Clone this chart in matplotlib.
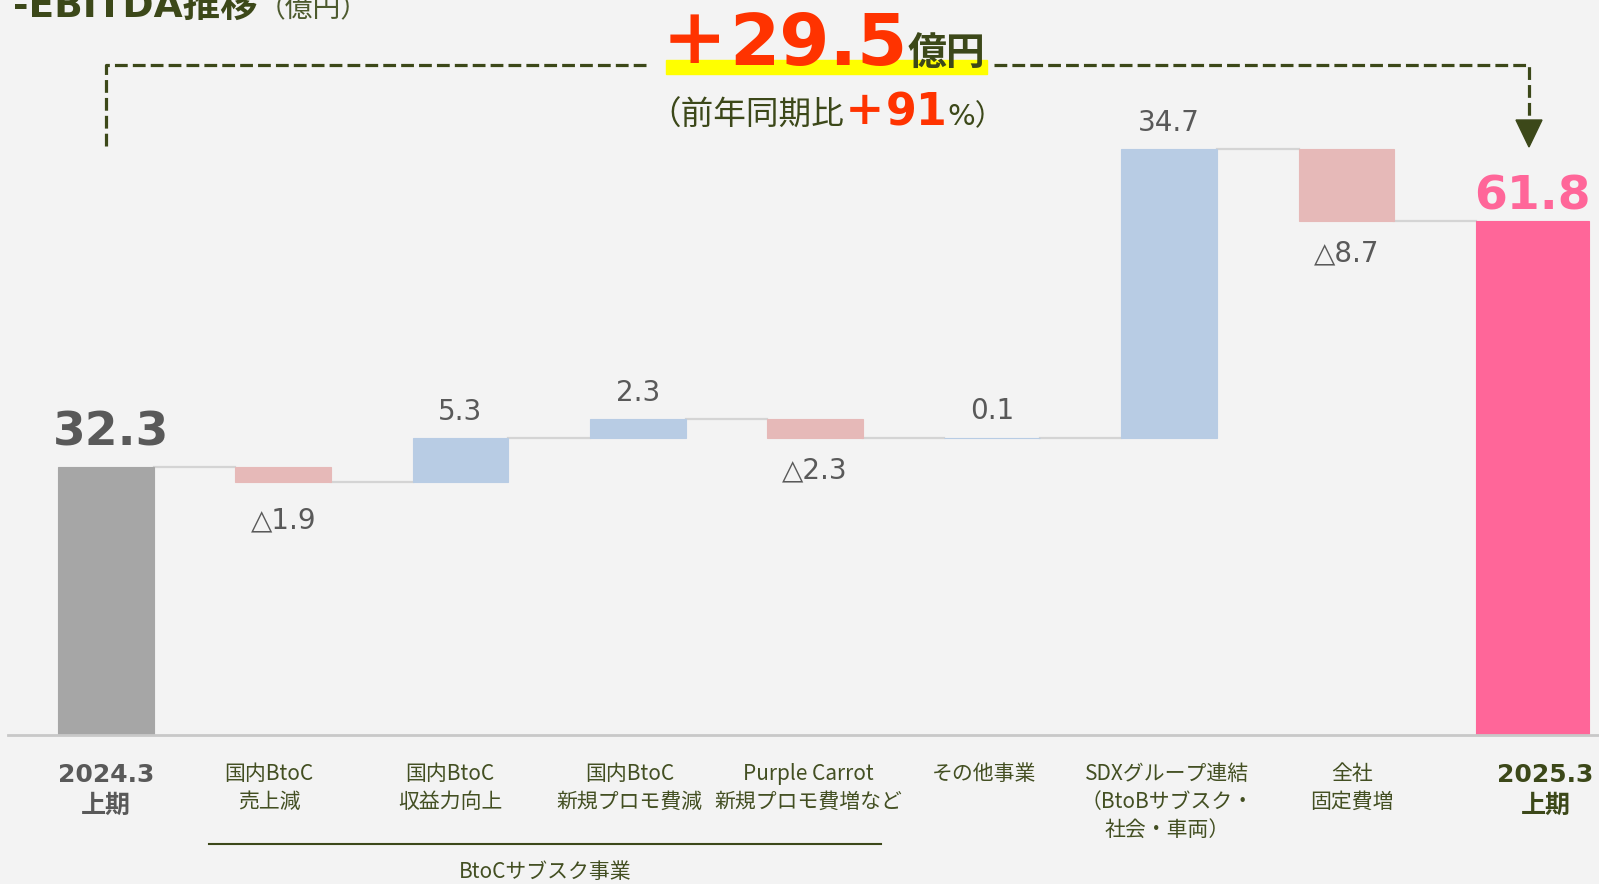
import numpy as np
import matplotlib
matplotlib.use("Agg")
import matplotlib.pyplot as plt
from matplotlib.patches import Rectangle, Polygon

W, H = 1599, 884
BG = '#f3f3f3'
OLIVE = '#3c4819'
GRAY_TXT = '#595959'
JP = ['Noto Sans CJK JP', 'DejaVu Sans']
NUM = ['DejaVu Sans', 'Noto Sans CJK JP']

# data
categories = ['2024.3\n上期', '国内BtoC\n売上減', '国内BtoC\n収益力向上', '国内BtoC\n新規プロモ費減',
              'Purple Carrot\n新規プロモ費増など', 'その他事業', 'SDXグループ連結\n（BtoBサブスク・\n社会・車両）',
              '全社\n固定費増', '2025.3\n上期']
deltas = [32.3, -1.9, 5.3, 2.3, -2.3, 0.1, 34.7, -8.7, 61.8]
value_labels = ['32.3', '△1.9', '5.3', '2.3', '△2.3', '0.1', '34.7', '△8.7', '61.8']
group_label = 'BtoCサブスク事業'
total_diff = '29.5'
yoy = '91'

# layout
xpos = np.array([0, 1, 2, 3, 4, 5, 6, 7, 8.048])
widths = np.array([0.541] * 8 + [0.64])
label_shift = np.array([0, -0.08, -0.058, -0.046, -0.035, -0.046, -0.012, 0.029, 0.075])
colors = []
bottoms = []
heights = []
run = 0.0
for i, d in enumerate(deltas):
    if i == 0 or i == len(deltas) - 1:
        bottoms.append(0)
        heights.append(d)
        colors.append('#a6a6a6' if i == 0 else '#ff6699')
        run = d
    else:
        lo = run if d >= 0 else run + d
        bottoms.append(lo)
        heights.append(abs(d))
        colors.append('#b8cce4' if d >= 0 else '#e6b9b8')
        run += d

fig = plt.figure(figsize=(W / 100, H / 100), dpi=100, facecolor=BG)
ax = fig.add_axes([0, 0, 1, 1])
ax.set_facecolor(BG)
x_step = 177.2
x0_px = 106.1
y_base_px = 735.3
y_scale = 8.317
ax.set_xlim(-x0_px / x_step, (W - x0_px) / x_step)
ax.set_ylim(-(H - y_base_px) / y_scale, y_base_px / y_scale)
ax.axis('off')

ax.bar(xpos, heights, bottom=bottoms, width=widths, color=colors, edgecolor=colors, lw=0.8, zorder=3)

# connectors
levels = np.cumsum(deltas[:-1])
for i in range(len(deltas) - 1):
    lvl = levels[i]
    ax.plot([xpos[i] + widths[i] / 2, xpos[i + 1] - widths[i + 1] / 2], [lvl, lvl],
            color='#d4d4d4', lw=1.6, zorder=2)

# baseline
ax.plot([(8 - x0_px) / x_step, (1599 - x0_px) / x_step], [0, 0], color='#c8c8c8', lw=2, zorder=4)

# value labels
for i, (d, s) in enumerate(zip(deltas, value_labels)):
    top = bottoms[i] + heights[i]
    if i == 0:
        ax.annotate(s, (xpos[i] + 0.03, top), xytext=(0, 8), textcoords='offset points', ha='center',
                    va='bottom', fontsize=34, fontweight='bold', color=GRAY_TXT, family=NUM)
    elif i == len(deltas) - 1:
        ax.annotate(s, (xpos[i], top), xytext=(0, 1), textcoords='offset points', ha='center',
                    va='bottom', fontsize=34, fontweight='bold', color='#ff6699', family=NUM)
    elif d >= 0:
        ax.annotate(s, (xpos[i], top), xytext=(0, 19), textcoords='offset points', ha='center',
                    va='center', fontsize=20, color=GRAY_TXT, family=NUM)
    else:
        off = -27 if i == 1 else -23
        ax.annotate(s, (xpos[i], bottoms[i]), xytext=(0, off), textcoords='offset points', ha='center',
                    va='center', fontsize=20, color=GRAY_TXT, family=NUM)

# category labels
ycat = -(763 - y_base_px) / y_scale
for i, c in enumerate(categories):
    lx = xpos[i] + label_shift[i]
    if i == 0 or i == len(categories) - 1:
        ax.text(lx, ycat, c, ha='center', va='top', fontsize=18, fontweight='bold',
                color=GRAY_TXT if i == 0 else OLIVE, family=NUM, linespacing=1.35)
    else:
        ax.text(lx, ycat, c, ha='center', va='top', fontsize=15, color='#434f22',
                family=JP, linespacing=1.36)

# group bracket
yg = -(844 - y_base_px) / y_scale
ax.plot([(209 - x0_px) / x_step, (881 - x0_px) / x_step], [yg, yg], color=OLIVE, lw=1.5)
ax.text((545 - x0_px) / x_step, -(872 - y_base_px) / y_scale, group_label, ha='center', va='center',
        fontsize=15, color='#434f22', family=JP)


def fx(px):
    return px / W


def fy(py):
    return 1 - py / H


# dashed bracket at top
dash = dict(color=OLIVE, lw=2.3, linestyle=(0, (4, 1.6)), transform=fig.transFigure, zorder=5)
ax.plot([fx(106), fx(106), fx(648)], [fy(146), fy(65), fy(65)], **dash)
ax.plot([fx(994), fx(1529), fx(1529)], [fy(65), fy(65), fy(122)], **dash)
ax.add_patch(Polygon([[fx(1516), fy(120)], [fx(1542), fy(120)], [fx(1529), fy(147)]],
                     closed=True, color=OLIVE, transform=fig.transFigure, zorder=6))

# highlight
ax.add_patch(Rectangle((fx(666), fy(74)), fx(987) - fx(666), (74 - 60) / H, color='#ffff00',
                       transform=fig.transFigure, zorder=5))

renderer = fig.canvas.get_renderer()


def chain(parts, x_px, base_px):
    x = x_px
    for s, size, color, weight, fam in parts:
        t = fig.text(fx(x), fy(base_px), s, fontsize=size, color=color, fontweight=weight,
                     ha='left', va='baseline', family=fam, zorder=7)
        bb = t.get_window_extent(renderer=renderer)
        x += bb.width


chain([('＋', 50, '#ff3300', 'heavy', JP), (total_diff, 52, '#ff3300', 'bold', NUM),
       ('億円', 28, OLIVE, 'bold', JP)], 660, 65)
chain([('（前年同期比', 23.5, OLIVE, 'normal', JP), ('＋', 30, '#ff3300', 'heavy', JP),
       (yoy, 32, '#ff3300', 'bold', NUM), ('%）', 21, OLIVE, 'normal', NUM)], 648, 125)

# title (cut at top, as in the source slide)
chain([('-EBITDA推移', 27, OLIVE, 'bold', NUM), ('（億円）', 20, '#4d5a2e', 'normal', JP)], 13, 17)

fig.savefig('out.png', dpi=100, facecolor=BG)
